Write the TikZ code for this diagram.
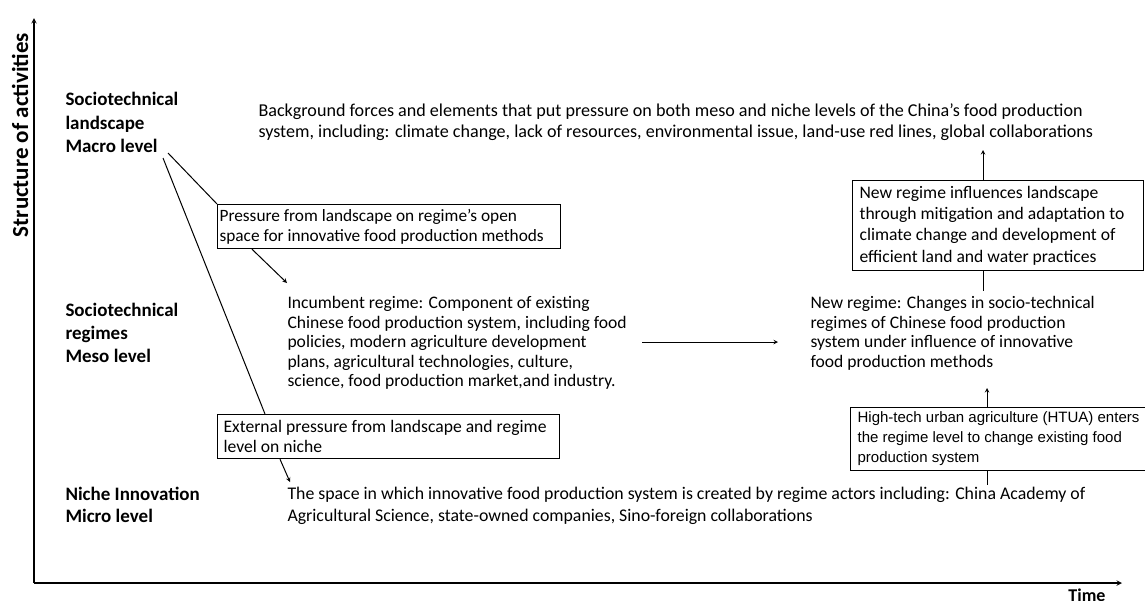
\documentclass[tikz,border=0pt]{standalone}
\usepackage{fontspec}
\setmainfont{Carlito}
\newfontfamily\arialfont{Liberation Sans}
\usetikzlibrary{positioning}

\tikzset{
  lvl/.style={font=\fontsize{19}{23.5}\selectfont\bfseries, align=left, anchor=base west, inner sep=0pt},
  txt/.style={font=\fontsize{17.6}{19.5}\selectfont, align=left, anchor=base west, inner sep=0pt},
  infobox/.style={draw, line width=1.2pt, align=flush left, anchor=north west, inner ysep=0pt},
}

\begin{document}
\begin{tikzpicture}[>=stealth, x=1pt, y=-1pt, line width=1pt]
\useasboundingbox (0,0) rectangle (1145,600);

% axes
\draw [->, line width=1.4pt] (34,583)--(34,18);
\draw [->, line width=1.4pt] (34,583)--(1122,583);
\node (yaxis) [font=\fontsize{23}{24}\selectfont\bfseries, rotate=90] at (20,135) {Structure of activities};
\node (xaxis) [font=\fontsize{18}{20}\selectfont\bfseries, anchor=north, inner sep=0pt] at (1087,588) {Time};

% levels
\node (landscape) [lvl] at (65,152.5) {Sociotechnical\\landscape\\Macro level};
\node (regimes) [lvl, font=\fontsize{19}{23}\selectfont\bfseries] at (65,362) {Sociotechnical\\regimes\\Meso level};
\node (niche) [lvl, font=\fontsize{19}{22}\selectfont\bfseries] at (65,522) {Niche Innovation\\Micro level};

% texts
\node (background) [txt, font=\fontsize{18.1}{21}\selectfont] at (258,137.5) {Background forces and elements that put pressure on both meso and niche levels of the China’s food production\\system, including: climate change, lack of resources, environmental issue, land-use red lines, global collaborations};
\node (incumbent) [txt] at (287,386.5) {Incumbent regime: Component of existing\\Chinese food production system, including food\\policies, modern agriculture development\\plans, agricultural technologies, culture,\\science, food production market,and industry.};
\node (newregime) [txt] at (810,367) {New regime: Changes in socio-technical\\regimes of Chinese food production\\system under influence of innovative\\food production methods};
\node (nichetext) [txt, font=\fontsize{17.8}{22}\selectfont] at (287,521) {The space in which innovative food production system is created by regime actors including: China Academy of\\Agricultural Science, state-owned companies, Sino-foreign collaborations};

% boxes
\node (pressure) [infobox, font=\fontsize{17.3}{20}\selectfont, inner xsep=2pt, text width=339pt, minimum height=44pt] at (217,204) {Pressure from landscape on regime’s open\\space for innovative food production methods};
\node (external) [infobox, font=\fontsize{17.6}{20}\selectfont, inner xsep=6pt, text width=330pt, minimum height=44pt] at (217,414) {External pressure from landscape and regime\\level on niche};
\node (influence) [infobox, font=\fontsize{17.6}{21.3}\selectfont, inner xsep=7pt, text width=277pt, minimum height=90pt] at (852,180) {New regime influences landscape\\through mitigation and adaptation to\\climate change and development of\\efficient land and water practices};
\node (htua) [infobox, font=\arialfont\fontsize{15}{20}\selectfont, inner xsep=7pt, text width=300pt, minimum height=63pt] at (850,407) {High-tech urban agriculture (HTUA) enters\\the regime level to change existing food\\production system};

% connectors
\coordinate (macro1) at (168,153);
\coordinate (macro2) at (163,158);
\draw (macro1) -- (pressure.north west);
\draw (macro2) -- (external.north west -| 265,0);
\draw [->] (pressure.south west) ++(35,0) -- (287,283);
\draw [->] (external.south west) ++(63,0) -- (290,482);
\draw [->] ([xshift=15pt]incumbent.east |- 0,342) -- (778,342);
\draw [->] (influence.north -| 983,0) -- (983,150);
\draw (influence.south -| 983,0) -- (983,291);
\draw [->] (htua.north -| 987,0) -- (987,388);
\draw (htua.south -| 987,0) -- (987,485);
\end{tikzpicture}
\end{document}
